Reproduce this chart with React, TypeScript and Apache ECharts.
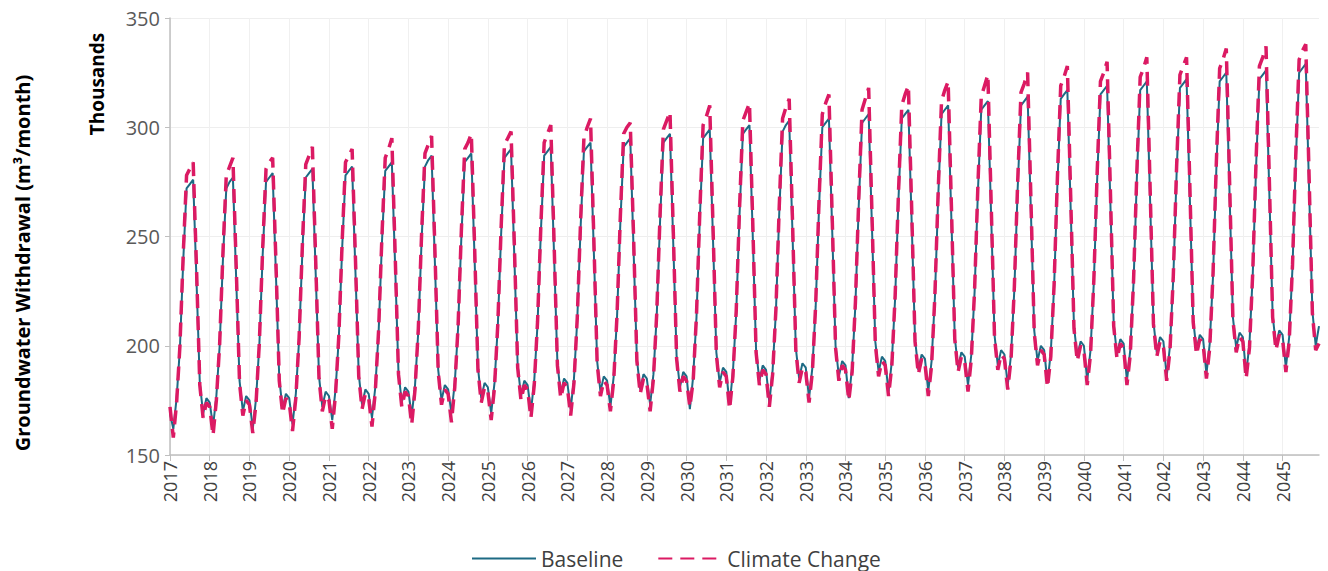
import React, { useEffect, useRef } from "react";
import * as echarts from "echarts";

const years = [
  2017, 2018, 2019, 2020, 2021, 2022, 2023, 2024, 2025, 2026,
  2027, 2028, 2029, 2030, 2031, 2032, 2033, 2034, 2035, 2036,
  2037, 2038, 2039, 2040, 2041, 2042, 2043, 2044, 2045,
];
const months = ["01", "02", "03", "04", "05", "06", "07", "08", "09", "10", "11", "12"];

// Groundwater withdrawal, thousands of m3/month, Jan..Dec for each year
const baseline = [
  169, 162, 176, 199, 239, 272, 274, 276, 230, 183, 169, 176, // 2017
  174, 163, 177, 200, 240, 272, 275, 277, 230, 184, 170, 177, // 2018
  175, 162, 176, 201, 242, 275, 277, 279, 232, 185, 171, 178, // 2019
  176, 164, 178, 203, 244, 277, 279, 281, 233, 186, 172, 179, // 2020
  177, 166, 180, 204, 245, 278, 280, 282, 234, 187, 173, 180, // 2021
  178, 167, 181, 206, 247, 280, 282, 284, 236, 188, 174, 181, // 2022
  179, 168, 182, 207, 249, 282, 285, 287, 238, 189, 175, 182, // 2023
  180, 169, 183, 208, 250, 284, 286, 288, 239, 190, 176, 183, // 2024
  181, 169, 183, 209, 251, 286, 288, 290, 240, 191, 177, 184, // 2025
  182, 170, 184, 210, 252, 287, 289, 291, 241, 192, 178, 185, // 2026
  183, 171, 185, 212, 254, 289, 291, 293, 243, 193, 179, 186, // 2027
  184, 172, 186, 213, 256, 291, 293, 295, 244, 194, 180, 187, // 2028
  185, 173, 187, 214, 257, 293, 295, 297, 246, 195, 181, 188, // 2029
  186, 171, 186, 213, 258, 295, 297, 299, 248, 197, 183, 190, // 2030
  188, 173, 188, 215, 260, 297, 299, 301, 250, 198, 184, 191, // 2031
  189, 174, 189, 216, 261, 298, 301, 303, 251, 199, 185, 192, // 2032
  190, 176, 190, 218, 263, 300, 302, 304, 252, 200, 186, 193, // 2033
  191, 176, 190, 219, 264, 302, 304, 306, 254, 202, 188, 195, // 2034
  193, 179, 193, 222, 267, 304, 306, 308, 256, 203, 189, 196, // 2035
  194, 179, 193, 222, 268, 306, 308, 310, 257, 204, 190, 197, // 2036
  195, 182, 196, 225, 271, 308, 310, 312, 259, 205, 191, 198, // 2037
  196, 182, 196, 226, 272, 310, 312, 314, 261, 207, 193, 200, // 2038
  198, 183, 197, 227, 274, 313, 315, 317, 263, 209, 195, 202, // 2039
  200, 184, 198, 229, 276, 315, 317, 319, 265, 210, 196, 203, // 2040
  201, 184, 198, 229, 277, 317, 319, 321, 266, 211, 197, 204, // 2041
  202, 186, 200, 231, 279, 318, 320, 322, 267, 212, 198, 205, // 2042
  203, 187, 201, 232, 281, 321, 323, 325, 269, 213, 199, 206, // 2043
  204, 187, 201, 233, 282, 322, 324, 326, 270, 214, 200, 207, // 2044
  205, 190, 204, 236, 285, 325, 327, 329, 272, 216, 200, 209, // 2045
];

const climateChange = [
  172, 158, 174, 200, 242, 278, 281, 284, 236, 182, 167, 174, // 2017
  172, 159, 175, 201, 243, 278, 282, 286, 236, 183, 168, 175, // 2018
  173, 160, 174, 202, 245, 281, 284, 286, 238, 184, 169, 176, // 2019
  174, 161, 176, 204, 247, 283, 287, 291, 239, 185, 170, 177, // 2020
  175, 162, 178, 205, 248, 284, 287, 290, 240, 186, 171, 178, // 2021
  176, 163, 179, 207, 250, 286, 290, 295, 242, 187, 172, 179, // 2022
  177, 164, 180, 208, 252, 288, 292, 296, 244, 188, 173, 180, // 2023
  178, 165, 181, 209, 253, 290, 293, 297, 245, 189, 174, 181, // 2024
  179, 166, 181, 210, 254, 292, 295, 298, 246, 190, 175, 182, // 2025
  180, 167, 182, 211, 255, 293, 297, 301, 247, 191, 176, 183, // 2026
  181, 168, 183, 213, 257, 295, 300, 304, 249, 192, 177, 184, // 2027
  182, 170, 184, 214, 259, 297, 300, 302, 250, 193, 178, 185, // 2028
  183, 170, 185, 215, 260, 299, 303, 307, 252, 194, 179, 186, // 2029
  184, 172, 184, 214, 261, 301, 305, 310, 254, 196, 181, 188, // 2030
  186, 171, 186, 216, 263, 303, 307, 311, 256, 197, 182, 189, // 2031
  187, 172, 187, 217, 264, 304, 309, 313, 257, 198, 183, 190, // 2032
  188, 174, 188, 219, 266, 306, 311, 315, 258, 199, 184, 191, // 2033
  189, 175, 188, 220, 267, 308, 313, 318, 260, 201, 186, 193, // 2034
  191, 177, 191, 223, 270, 310, 315, 319, 262, 202, 187, 194, // 2035
  192, 177, 191, 223, 271, 312, 317, 321, 263, 203, 188, 195, // 2036
  193, 179, 194, 226, 274, 314, 319, 324, 265, 204, 189, 196, // 2037
  194, 180, 194, 227, 275, 316, 320, 325, 267, 206, 191, 198, // 2038
  196, 181, 195, 228, 277, 319, 323, 328, 269, 208, 193, 200, // 2039
  198, 182, 196, 230, 279, 321, 325, 330, 271, 209, 194, 201, // 2040
  199, 182, 196, 230, 280, 323, 327, 332, 272, 210, 195, 202, // 2041
  200, 184, 198, 232, 282, 324, 328, 332, 273, 211, 196, 203, // 2042
  201, 185, 199, 233, 284, 327, 331, 336, 275, 212, 197, 204, // 2043
  202, 185, 199, 234, 285, 328, 332, 337, 276, 213, 198, 205, // 2044
  203, 188, 202, 237, 288, 331, 335, 338, 278, 215, 198, 201, // 2045
];

const yTicks = { min: 150, max: 350, interval: 50 };
const seriesNames = ["Baseline", "Climate Change"];
const yTitle = "Groundwater Withdrawal (m\u00b3/month)";
const unitLabel = "Thousands";

const FONT = '"Open Sans", "Noto Sans", sans-serif';

export default function App() {
  const ref = useRef<HTMLDivElement>(null);

  useEffect(() => {
    if (!ref.current) return;
    const chart = echarts.init(ref.current, undefined, { renderer: "svg" });
    const categories = years.flatMap((y) => months.map((m) => `${y}-${m}`));
    const isJan = (i: number) => i % 12 === 0;

    chart.setOption({
      animation: false,
      grid: { left: 170, right: 9, top: 18, bottom: 116, containLabel: false },
      legend: {
        data: seriesNames,
        left: 466,
        top: 543,
        itemWidth: 64,
        itemHeight: 14,
        itemGap: 34,
        itemStyle: { opacity: 0 },
        textStyle: { fontSize: 21, color: "#404040", fontFamily: FONT },
      },
      xAxis: {
        type: "category",
        data: categories,
        boundaryGap: false,
        axisLine: { lineStyle: { color: "#bfbfbf", width: 1.5 } },
        axisTick: { interval: (i: number) => isJan(i), length: 6, lineStyle: { color: "#bfbfbf" } },
        axisLabel: {
          interval: (i: number) => isJan(i),
          rotate: 90,
          formatter: (v: string) => v.slice(0, 4),
          fontSize: 18,
          color: "#404040",
          fontFamily: FONT,
          margin: 6,
        },
        splitLine: {
          show: true,
          interval: (i: number) => isJan(i),
          lineStyle: { color: "#f0f0f0", width: 1 },
        },
      },
      yAxis: {
        type: "value",
        min: yTicks.min,
        max: yTicks.max,
        interval: yTicks.interval,
        axisLine: { show: true, lineStyle: { color: "#bfbfbf", width: 1.5 } },
        axisTick: { show: true, length: 5, lineStyle: { color: "#bfbfbf" } },
        axisLabel: { fontSize: 20, color: "#595959", fontFamily: FONT, margin: 10 },
        splitLine: { show: true, lineStyle: { color: "#eeeeee", width: 1 } },
      },
      graphic: [
        {
          type: "text",
          x: 22,
          y: 263,
          rotation: Math.PI / 2,
          style: {
            text: yTitle,
            fill: "#000000",
            fontSize: 20,
            fontWeight: "bold",
            fontFamily: FONT,
            align: "center",
            verticalAlign: "middle",
          },
        },
        {
          type: "text",
          x: 97,
          y: 84,
          rotation: Math.PI / 2,
          style: {
            text: unitLabel,
            fill: "#000000",
            fontSize: 19,
            fontWeight: "bold",
            fontFamily: FONT,
            align: "center",
            verticalAlign: "middle",
          },
        },
      ],
      series: [
        {
          name: seriesNames[0],
          type: "line",
          data: baseline,
          symbol: "none",
          itemStyle: { color: "#1d6a84" },
          lineStyle: { color: "#1d6a84", width: 2 },
        },
        {
          name: seriesNames[1],
          type: "line",
          data: climateChange,
          symbol: "none",
          itemStyle: { color: "#db1a63" },
          lineStyle: { color: "#db1a63", width: 3.5, type: [14, 8] },
        },
      ],
    });

    return () => chart.dispose();
  }, []);

  return (
    <div
      ref={ref}
      style={{ position: "fixed", left: 0, top: 0, width: 1328, height: 571, background: "#ffffff" }}
    />
  );
}
